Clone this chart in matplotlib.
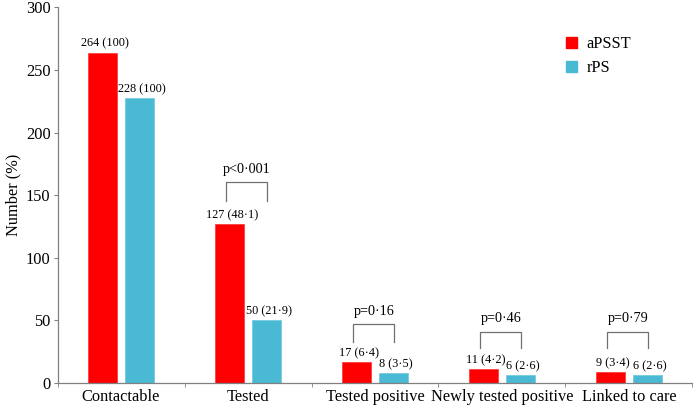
import matplotlib
matplotlib.use("Agg")
import matplotlib.pyplot as plt
import numpy as np
from matplotlib.patches import Patch

plt.rcParams['font.family'] = ['Liberation Serif', 'DejaVu Serif']

categories = ["Contactable", "Tested", "Tested positive", "Newly tested positive", "Linked to care"]
apsst = [264, 127, 17, 11, 9]
rps = [228, 50, 8, 6, 6]
apsst_labels = ["264 (100)", "127 (48\u00b71)", "17 (6\u00b74)", "11 (4\u00b72)", "9 (3\u00b74)"]
rps_labels = ["228 (100)", "50 (21\u00b79)", "8 (3\u00b75)", "6 (2\u00b76)", "6 (2\u00b76)"]
p_groups = [1, 2, 3, 4]
p_texts = ["p<0\u00b7001", "p=0\u00b716", "p=0\u00b746", "p=0\u00b779"]
p_bracket_top = [160.6, 47, 41, 41]
p_bracket_bottom = [145, 33, 28, 28]

red = "#ff0000"
blue = "#4ab9d4"
grey = "#808080"

fig = plt.figure(figsize=(6.94, 4.07), dpi=100)
ax = fig.add_axes([0.0829, 0.059, 0.9149, 0.9226])

x = np.arange(len(categories))
w = 0.226
off = 0.145
ax.bar(x - off, apsst, w, color=red, edgecolor="#ff3030", linewidth=0.5)
ax.bar(x + off, rps, w, color=blue, edgecolor="#6cc6dc", linewidth=0.5)

for i in range(len(categories)):
    ax.annotate(apsst_labels[i], (x[i] - off + 0.02, apsst[i]), xytext=(0, 2),
                textcoords="offset points", ha="center", va="bottom", fontsize=8.8)
    ax.annotate(rps_labels[i], (x[i] + off + 0.02, rps[i]), xytext=(0, 2),
                textcoords="offset points", ha="center", va="bottom", fontsize=8.8)

for g, t, top, bot in zip(p_groups, p_texts, p_bracket_top, p_bracket_bottom):
    xl = g - 0.17
    xr = g + 0.15
    ax.plot([xl, xl, xr, xr], [bot, top, top, bot], color="#707070", lw=0.9)
    ax.text(g - 0.01, top + 5, t, ha="center", va="bottom", fontsize=10.2)

ax.set_xlim(-0.5, 4.5)
ax.set_ylim(0, 300)
ax.set_yticks(np.arange(0, 301, 50))
ax.set_xticks(x)
ax.set_xticklabels(categories, fontsize=11.8)
ax.set_xticks(np.arange(-0.5, 4.6, 1), minor=True)
ax.tick_params(axis="x", which="major", length=0, pad=4)
ax.tick_params(axis="x", which="minor", length=3, color=grey, direction="out")
ax.tick_params(axis="y", length=3, color=grey, labelsize=11.8, pad=2)
ax.set_ylabel("Number (%)", fontsize=11.8, labelpad=3)
for s in ["top", "right"]:
    ax.spines[s].set_visible(False)
for s in ["left", "bottom"]:
    ax.spines[s].set_color(grey)
    ax.spines[s].set_linewidth(0.9)

handles = [Patch(color=red, label="aPSST"), Patch(color=blue, label="rPS")]
fig.legend(handles=handles, loc="upper left", bbox_to_anchor=(566 / 694, 1 - 36 / 407),
           frameon=False, fontsize=11.8, handlelength=0.7, handleheight=0.7,
           handletextpad=0.55, labelspacing=0.5, borderpad=0, borderaxespad=0)

fig.savefig("out.png", dpi=100)
